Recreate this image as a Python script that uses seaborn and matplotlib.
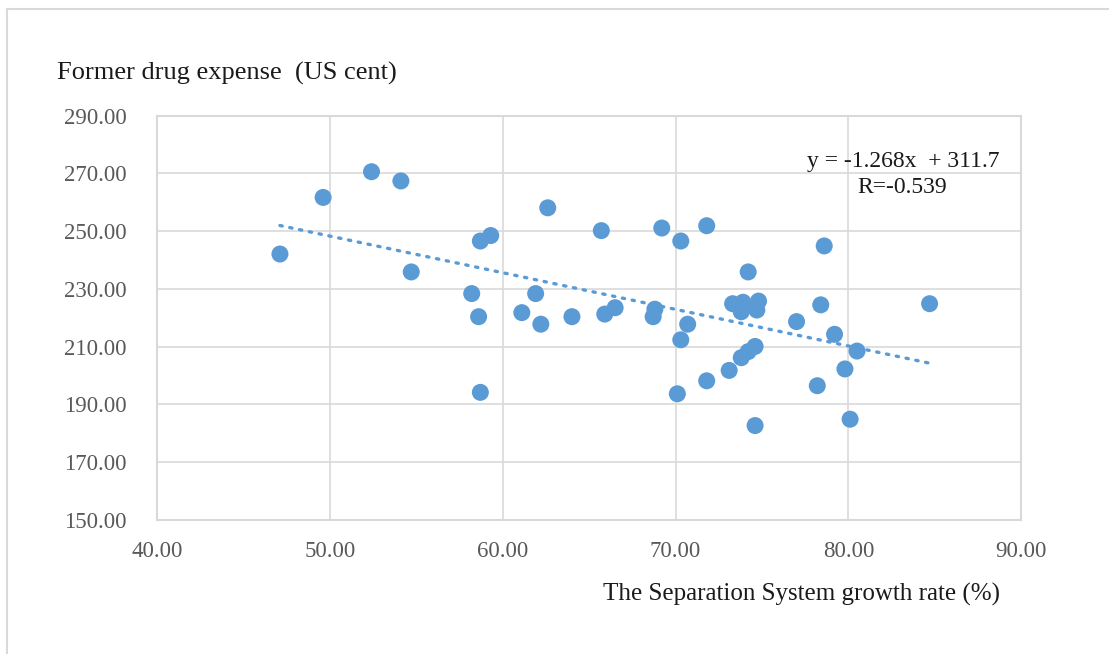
import matplotlib
matplotlib.use("Agg")
import matplotlib.pyplot as plt
import seaborn as sns
import numpy as np
import pandas as pd
from matplotlib.lines import Line2D

# values
growth_rate = [47.1, 49.6, 52.4, 54.1, 54.7, 58.7, 59.3, 58.2, 58.6, 58.7,
               62.6, 61.9, 61.1, 62.2, 64.0, 65.7, 65.9, 66.5, 69.2, 70.3,
               71.8, 68.8, 68.7, 70.7, 70.3, 70.1, 71.8, 73.1, 73.3, 73.9,
               73.8, 74.2, 74.8, 74.7, 73.8, 74.2, 74.6, 74.6, 77.0, 78.6,
               78.4, 79.2, 80.5, 79.8, 78.2, 80.1, 84.7]
drug_expense = [242.1, 261.7, 270.6, 267.4, 235.9, 246.6, 248.5, 228.4, 220.4, 194.2,
                258.1, 228.4, 221.8, 217.8, 220.4, 250.2, 221.3, 223.5, 251.1, 246.6,
                251.9, 223.0, 220.4, 217.8, 212.4, 193.7, 198.2, 201.8, 224.9, 225.4,
                222.1, 235.9, 225.8, 222.7, 206.2, 208.3, 210.1, 182.7, 218.7, 244.9,
                224.5, 214.3, 208.5, 202.3, 196.5, 184.9, 224.9]

slope, intercept = -1.268, 311.7
r_value = -0.539

x_ticks = [40, 50, 60, 70, 80, 90]
y_ticks = [150, 170, 190, 210, 230, 250, 270, 290]

blue = "#5B9BD5"
grid = "#D9D9D9"

sns.set_theme(style="whitegrid")
plt.rcParams["font.family"] = ["Liberation Serif", "DejaVu Serif"]

df = pd.DataFrame({"rate": growth_rate, "expense": drug_expense})

fig = plt.figure(figsize=(11.09, 6.54), dpi=100)
ax = fig.add_axes([0.1418, 0.2049, 0.779, 0.6182])

sns.scatterplot(data=df, x="rate", y="expense", ax=ax, color=blue,
                s=150, edgecolor="none", linewidth=0, zorder=3)

# linear trend line from the equation shown in the chart
xs = np.array([df["rate"].min(), df["rate"].max()])
ax.plot(xs, slope * xs + intercept, color=blue, lw=2.4,
        linestyle=(0, (0.7, 2.3)), dash_capstyle="round", zorder=2)

ax.set_xlim(40, 90)
ax.set_ylim(150, 290)
ax.set_xticks(x_ticks)
ax.set_yticks(y_ticks)
ax.set_xticklabels([f"{v:.2f}" for v in x_ticks])
ax.set_yticklabels([f"{v:.2f}" for v in y_ticks])
ax.tick_params(axis="both", length=0, labelsize=16.5, labelcolor="#595959")
ax.tick_params(axis="y", pad=22)
ax.tick_params(axis="x", pad=15)
ax.grid(True, color=grid, lw=1.2)
for sp in ax.spines.values():
    sp.set_color(grid)
    sp.set_linewidth(1.5)
ax.set_xlabel("")
ax.set_ylabel("")

fig.text(57 / 1109, 1 - 73 / 654, "Former drug expense  (US cent)",
         fontsize=19, color="#1a1a1a", va="center", ha="left")
fig.text(1000 / 1109, 1 - 594 / 654, "The Separation System growth rate (%)",
         fontsize=18, color="#1a1a1a", va="center", ha="right")

ax.text(0.752, 0.886, f"y = {slope}x  + {intercept}", transform=ax.transAxes,
        fontsize=17, color="#1a1a1a", va="center", ha="left")
ax.text(0.81, 0.822, f"R={r_value}", transform=ax.transAxes,
        fontsize=17, color="#1a1a1a", va="center", ha="left")

# thin frame at the top and left like the original image
fig.add_artist(Line2D([7 / 1109, 1], [1 - 9 / 654, 1 - 9 / 654],
                      transform=fig.transFigure, color=grid, lw=1.5))
fig.add_artist(Line2D([7 / 1109, 7 / 1109], [0, 1 - 9 / 654],
                      transform=fig.transFigure, color=grid, lw=1.5))

fig.savefig("out.png", dpi=100)
plt.close(fig)
